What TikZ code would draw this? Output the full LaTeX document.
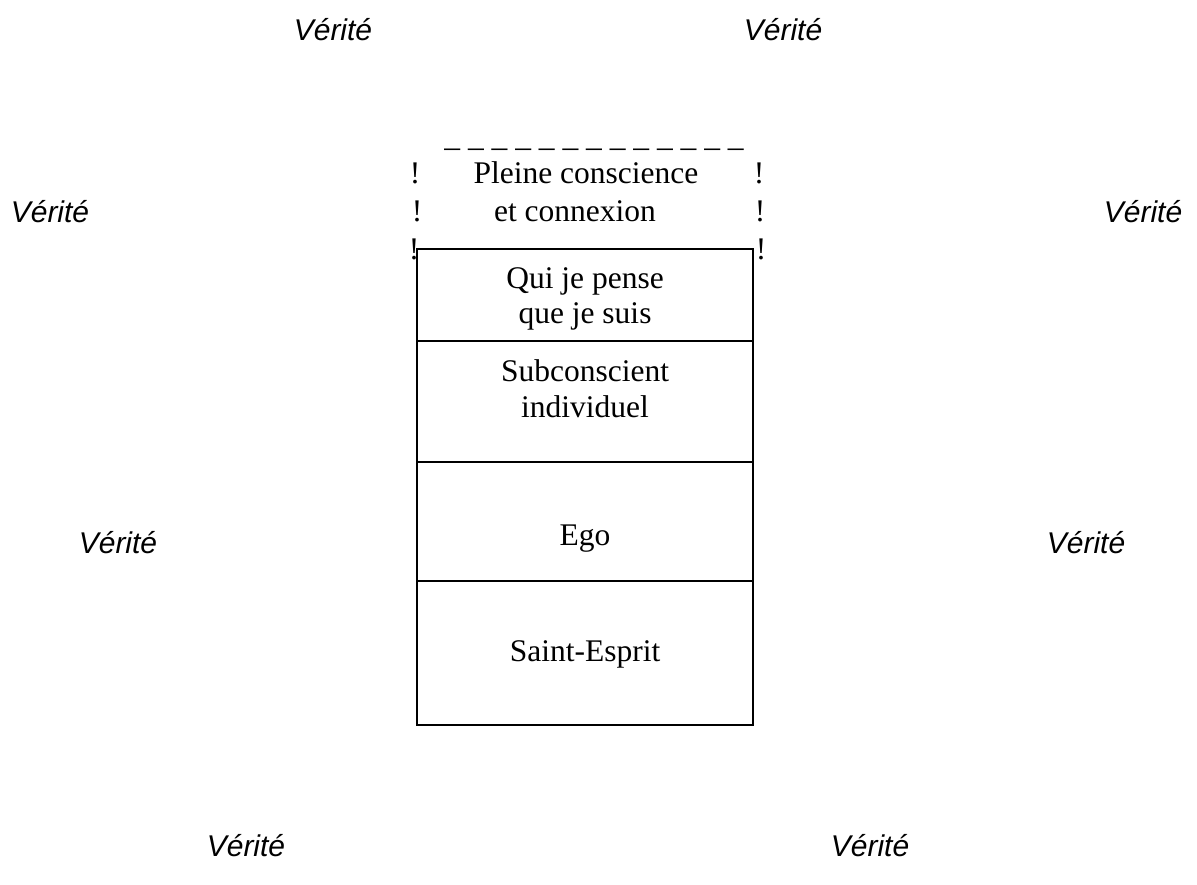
\documentclass[tikz,border=0pt]{standalone}
\usepackage{fontspec}
\setmainfont{Liberation Serif}
\newfontfamily\arialfont{Liberation Sans}
\begin{document}
\begin{tikzpicture}[x=1pt,y=-1pt,
  verite/.style={anchor=base,inner sep=0pt,font=\arialfont\itshape\fontsize{30}{36}\selectfont},
  lbl/.style={anchor=base,inner sep=0pt,font=\fontsize{31.5}{38}\selectfont},
  layer/.style={draw=black,line width=1.6pt}]
\useasboundingbox (0,0) rectangle (1197,884);
% Vérité labels
\node[verite] (v1) at (333,40) {Vérité};
\node[verite] (v2) at (783,40) {Vérité};
\node[verite] (v3) at (50,222) {Vérité};
\node[verite] (v4) at (1143,222) {Vérité};
\node[verite] (v5) at (118,553) {Vérité};
\node[verite] (v6) at (1086,553) {Vérité};
\node[verite] (v7) at (246,856) {Vérité};
\node[verite] (v8) at (870,856) {Vérité};
% layered box
\draw[layer] (417,249) rectangle (753,725);
\draw[layer] (417,341) -- (753,341);
\draw[layer] (417,462) -- (753,462);
\draw[layer] (417,581) -- (753,581);
% dashed top made of characters
\node[lbl] (dash) at (594,146) {\_ \_ \_ \_ \_ \_ \_ \_ \_ \_ \_ \_ \_};
\node[lbl] (e1) at (415,183) {!};
\node[lbl] (e2) at (417,221) {!};
\node[lbl] (e3) at (414,259) {!};
\node[lbl] (e4) at (759,183) {!};
\node[lbl] (e5) at (760,221) {!};
\node[lbl] (e6) at (761,259) {!};
\node[lbl] (t1) at (586,183) {Pleine conscience};
\node[lbl] (t2) at (575,221) {et connexion};
\node[lbl] (t3) at (585,288) {Qui je pense};
\node[lbl] (t4) at (585,323) {que je suis};
\node[lbl] (t5) at (585,381) {Subconscient};
\node[lbl] (t6) at (585,417) {individuel};
\node[lbl] (t7) at (585,545) {Ego};
\node[lbl] (t8) at (585,661) {Saint-Esprit};
\end{tikzpicture}
\end{document}
